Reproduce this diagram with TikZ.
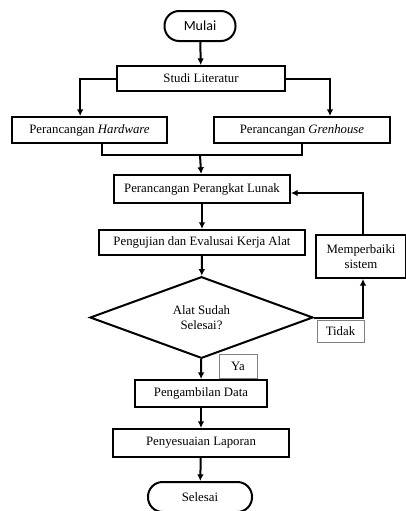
\documentclass[tikz,border=0pt]{standalone}
\usepackage{fontspec}
\setmainfont{Liberation Serif}
\newfontfamily\calfont{Carlito}
\usetikzlibrary{shapes.geometric,arrows.meta}
\begin{document}
\begin{tikzpicture}[x=0.75pt, y=-0.75pt, line width=1.5pt, >={Latex[length=5pt,width=5pt]},
  font=\fontsize{9.6}{11.5}\selectfont,
  box/.style={draw, rectangle, inner sep=0pt},
  term/.style={draw, rectangle, rounded corners=11pt, inner sep=0pt, minimum width=#1, minimum height=22.5pt},
  tag/.style={draw=gray, line width=0.5pt, rectangle, inner sep=0pt}]
\useasboundingbox (0,0) rectangle (406,511);
\node[term=53.25pt, font=\calfont\fontsize{10.5}{12}\selectfont] (mulai) at (200,26) {Mulai};
\node[box, minimum width=126pt, minimum height=18.75pt] (studi) at (201,78.5) {Studi Literatur};
\node[box, minimum width=116.25pt, minimum height=19.5pt] (hw) at (89.5,130) {Perancangan \textit{Hardware}};
\node[box, minimum width=132pt, minimum height=19.5pt] (gh) at (302,130) {Perancangan \textit{Grenhouse}};
\coordinate (gabung) at (200,155);
\node[box, minimum width=132pt, minimum height=21pt] (lunak) at (202,189) {Perancangan Perangkat Lunak};
\node[box, minimum width=154.5pt, minimum height=18.75pt] (uji) at (202,242.5) {Pengujian dan Evalusai Kerja Alat};
\node[draw, diamond, inner sep=0pt, minimum width=167.25pt, minimum height=57.75pt, align=center] (cek) at (201.5,317.5) {Alat Sudah\\Selesai?};
\node[box, minimum width=67.5pt, minimum height=32.25pt, align=center] (perbaiki) at (361,256.5) {Memperbaiki\\sistem};
\node[tag, minimum width=35.25pt, minimum height=16.5pt] (tidak) at (340.5,331) {Tidak};
\node[tag, minimum width=28.5pt, minimum height=18pt] (ya) at (238,366) {Ya};
\node[box, minimum width=99pt, minimum height=20.25pt] (ambil) at (201,393.5) {Pengambilan Data};
\node[box, minimum width=132pt, minimum height=21pt] (lapor) at (201,443) {Penyesuaian Laporan};
\node[term=78pt] (selesai) at (200,497) {Selesai};
% alur utama
\draw[->] (mulai) -- (studi);
\draw[->] (studi.west) -| ([xshift=-7pt]hw.north);
\draw[->] (studi.east) -| ([xshift=21pt]gh.north);
\draw ([xshift=9.4pt]hw.south) |- (gabung) -| (gh.south);
\draw[->] (gabung) -- (lunak);
\draw[->] (lunak) -- (uji);
\draw[->] (uji) -- (cek);
\draw[->] (cek) -- (ambil);
\draw[->] (ambil) -- (lapor);
\draw[->] (lapor) -- (selesai);
% perbaikan
\draw[->] (cek.east) -| ([xshift=1.5pt]perbaiki.south);
\draw[->] ([xshift=1.5pt]perbaiki.north) |- ([yshift=-3pt]lunak.east);
\end{tikzpicture}
\end{document}
